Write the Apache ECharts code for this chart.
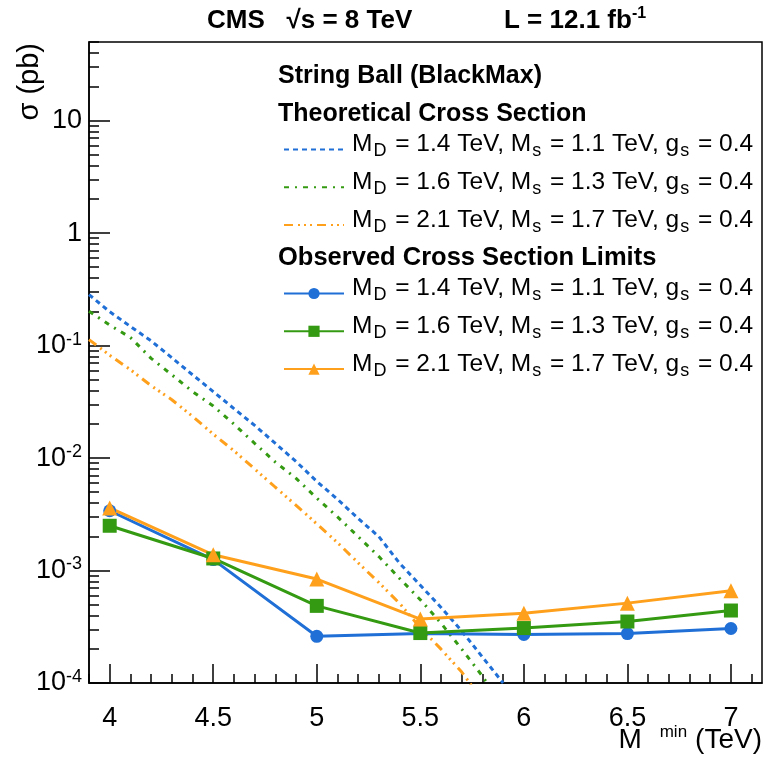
<!DOCTYPE html>
<html>
<head>
<meta charset="utf-8">
<script src="https://cdn.jsdelivr.net/npm/echarts@6/dist/echarts.min.js"></script>
<style>
html,body{margin:0;padding:0;background:#fff;}
#chart{width:766px;height:757px;}
</style>
</head>
<body>
<div id="chart"></div>
<script>
// ---------- data ----------
const thX = [3.9,4.0,4.1,4.2,4.3,4.4,4.5,4.6,4.7,4.8,4.9,5.0,5.1,5.2,5.3,5.4,5.5,5.6,5.7,5.8,5.9];
const thBlue = [0.284,0.20,0.148,0.11,0.078,0.055,0.039,0.0275,0.0195,0.0135,0.0093,0.0062,0.0043,0.0029,0.0020,0.00116,0.00074,0.00047,0.00029,0.00017,0.0001];
const thGreen = [0.202,0.152,0.118,0.077,0.055,0.039,0.029,0.020,0.0135,0.0092,0.0066,0.0044,0.0030,0.0020,0.00133,0.00085,0.00055,0.00034,0.00020,0.000115,0.00006];
const thOrange = [0.113,0.082,0.061,0.044,0.033,0.0235,0.0163,0.0116,0.0080,0.0055,0.0038,0.0026,0.00177,0.00117,0.00078,0.00051,0.00031,0.00020,0.000125,0.00007];

const obsX = [4,4.5,5,5.5,6,6.5,7];
const obsBlue = [0.0034,0.00125,0.00026,0.000275,0.00027,0.000275,0.000305];
const obsGreen = [0.0025,0.00128,0.000485,0.000278,0.000308,0.000352,0.000441];
const obsOrange = [0.0036,0.00138,0.00084,0.00037,0.000418,0.000513,0.00066];

const xMajor = [4,4.5,5,5.5,6,6.5,7];
const xMinor = [3.9,4.0,4.1,4.2,4.3,4.4,4.5,4.6,4.7,4.8,4.9,5.0,5.1,5.2,5.3,5.4,5.5,5.6,5.7,5.8,5.9,6.0,6.1,6.2,6.3,6.4,6.5,6.6,6.7,6.8,6.9,7.0,7.1];
const yMajorExp = [-4,-3,-2,-1,0,1];
const yMajorLabels = ['10^-4','10^-3','10^-2','10^-1','1','10'];
const yMinorMult = [2,3,4,5,6,7,8,9];

const legendLabels = {
  tb: ['1.4','1.1'], tg: ['1.6','1.3'], to: ['2.1','1.7'],
  ob: ['1.4','1.1'], og: ['1.6','1.3'], oo: ['2.1','1.7']
};

// ---------- helpers ----------
const FONT = 'Liberation Sans, Arial, Helvetica, sans-serif';
const BLUE = '#1f6fd6', GREEN = '#349a12', ORANGE = '#ffa01c';
const yMin = 1e-4, yMax = 50;
const yMinLog = Math.log10(yMin), yMaxLog = Math.log10(yMax);
const yMinorLog = [];
for (let e = -4; e <= 1; e++) for (const m of yMinorMult) {
  const v = Math.log10(m) + e; if (v <= yMaxLog) yMinorLog.push(+v.toFixed(6));
}
const pairs = (xs, ys) => ys.map((y, i) => [xs[i], y]);
function legendText(name){
  const p = legendLabels[name];
  return '{a|M}{s|D}{a| = ' + p[0] + ' TeV, M}{s|s}{a| = ' + p[1] + ' TeV, g}{s|s}{a| = 0.4}';
}
const legendRich = {
  a: {fontSize: 24.5, fontFamily: FONT, color: '#000', lineHeight: 32},
  s: {fontSize: 18, fontFamily: FONT, color: '#000', lineHeight: 13, verticalAlign: 'bottom', padding: [0, 2, 0, 1]}
};

const chart = echarts.init(document.getElementById('chart'), null, {renderer: 'canvas'});
const axisBlack = {color: '#000', width: 1.5};

const legendBase = {orient: 'vertical', left: 278, itemWidth: 60, itemHeight: 14, itemGap: 9.3,
  selectedMode: false, formatter: legendText, textStyle: {padding: [0, 0, 10, 3], rich: legendRich}};

const option = {
  animation: false,
  backgroundColor: '#fff',
  grid: {left: 89, right: 4, top: 42, bottom: 74, show: true, borderColor: '#000', borderWidth: 1.5, containLabel: false},
  xAxis: [
    {type: 'value', min: 3.9, max: 7.15, position: 'bottom',
     axisLine: {show: true, onZero: false, lineStyle: axisBlack},
     axisTick: {show: true, inside: true, length: 19, customValues: xMajor, lineStyle: axisBlack},
     axisLabel: {show: true, customValues: xMajor, fontSize: 27, fontFamily: FONT, color: '#000', margin: 22,
                 formatter: v => String(v)},
     splitLine: {show: false}},
    {type: 'value', min: 3.9, max: 7.15, position: 'bottom',
     axisLine: {show: false, onZero: false},
     axisTick: {show: true, inside: true, length: 9, customValues: xMinor, lineStyle: axisBlack},
     axisLabel: {show: false}, splitLine: {show: false}}
  ],
  yAxis: [
    {type: 'log', min: yMin, max: yMax, position: 'left', logBase: 10,
     axisLine: {show: true, onZero: false, lineStyle: axisBlack},
     axisTick: {show: false}, axisLabel: {show: false}, splitLine: {show: false}, minorTick: {show: false}},
    {type: 'value', min: yMinLog, max: yMaxLog, position: 'left',
     axisLine: {show: false, onZero: false},
     axisTick: {show: true, inside: true, length: 21, customValues: yMajorExp, lineStyle: axisBlack},
     axisLabel: {show: true, customValues: yMajorExp, margin: 7,
       formatter: v => {
         const i = yMajorExp.indexOf(Math.round(v));
         const t = yMajorLabels[i];
         if (t.indexOf('^') < 0) return '{b|' + t + '}';
         const parts = t.split('^');
         return '{b|' + parts[0] + '}{p|' + parts[1] + '}';
       },
       rich: {
         b: {fontSize: 27, fontFamily: FONT, color: '#000', lineHeight: 30},
         p: {fontSize: 18, fontFamily: FONT, color: '#000', lineHeight: 14, verticalAlign: 'top'}
       }},
     splitLine: {show: false}},
    {type: 'value', min: yMinLog, max: yMaxLog, position: 'left',
     axisLine: {show: false, onZero: false},
     axisTick: {show: true, inside: true, length: 10, customValues: yMinorLog, lineStyle: axisBlack},
     axisLabel: {show: false}, splitLine: {show: false}}
  ],
  legend: [
    Object.assign({}, legendBase, {data: ['tb','tg','to'], top: 127, itemStyle: {opacity: 0}}),
    Object.assign({}, legendBase, {data: ['ob','og','oo'], top: 271})
  ],
  graphic: [
    {type: 'text', x: 207, y: 21, style: {text: 'CMS   √s = 8 TeV', font: 'bold 26px ' + FONT, fill: '#000', verticalAlign: 'middle'}},
    {type: 'text', x: 504, y: 21, style: {text: '{t|L = 12.1 fb}{u|-1}', fill: '#000', verticalAlign: 'middle',
       rich: {t: {font: 'bold 26px ' + FONT, fill: '#000', lineHeight: 30}, u: {font: 'bold 16px ' + FONT, fill: '#000', lineHeight: 14, verticalAlign: 'top'}}}},
    {type: 'text', x: 278, y: 76, style: {text: 'String Ball (BlackMax)', font: 'bold 25px ' + FONT, fill: '#000', verticalAlign: 'middle'}},
    {type: 'text', x: 278, y: 114, style: {text: 'Theoretical Cross Section', font: 'bold 25px ' + FONT, fill: '#000', verticalAlign: 'middle'}},
    {type: 'text', x: 278, y: 258, style: {text: 'Observed Cross Section Limits', font: 'bold 25.5px ' + FONT, fill: '#000', verticalAlign: 'middle'}},
    {type: 'text', x: 762, y: 740, style: {text: '{m|M}{u|min}{m|(TeV)}', fill: '#000', align: 'right', verticalAlign: 'middle',
       rich: {m: {font: '28px ' + FONT, fill: '#000', lineHeight: 32}, u: {font: '17px ' + FONT, fill: '#000', lineHeight: 14, verticalAlign: 'top', padding: [0, 8, 0, 18]}}}},
    {type: 'text', x: 30, y: 43, rotation: Math.PI / 2, style: {text: 'σ (pb)', font: '29px ' + FONT, fill: '#000', align: 'right', verticalAlign: 'middle'}}
  ],
  series: [
    {name: 'tb', type: 'line', data: pairs(thX, thBlue), symbol: 'none', xAxisIndex: 0, yAxisIndex: 0,
     lineStyle: {color: BLUE, width: 3, type: [5, 4]}, itemStyle: {color: BLUE}, clip: true},
    {name: 'tg', type: 'line', data: pairs(thX, thGreen), symbol: 'none', xAxisIndex: 0, yAxisIndex: 0,
     lineStyle: {color: GREEN, width: 3, type: [5, 6, 2, 6]}, itemStyle: {color: GREEN}, clip: true},
    {name: 'to', type: 'line', data: pairs(thX, thOrange), symbol: 'none', xAxisIndex: 0, yAxisIndex: 0,
     lineStyle: {color: ORANGE, width: 3, type: [9, 5, 2, 4, 2, 4, 2, 5]}, itemStyle: {color: ORANGE}, clip: true},
    {name: 'ob', type: 'line', data: pairs(obsX, obsBlue), symbol: 'circle', symbolSize: 13, xAxisIndex: 0, yAxisIndex: 0,
     lineStyle: {color: BLUE, width: 3}, itemStyle: {color: BLUE}},
    {name: 'og', type: 'line', data: pairs(obsX, obsGreen), symbol: 'rect', symbolSize: 14, xAxisIndex: 0, yAxisIndex: 0,
     lineStyle: {color: GREEN, width: 3}, itemStyle: {color: GREEN}},
    {name: 'oo', type: 'line', data: pairs(obsX, obsOrange), symbol: 'triangle', symbolSize: 15, xAxisIndex: 0, yAxisIndex: 0,
     lineStyle: {color: ORANGE, width: 3}, itemStyle: {color: ORANGE}}
  ]
};
chart.setOption(option);
</script>
</body>
</html>
